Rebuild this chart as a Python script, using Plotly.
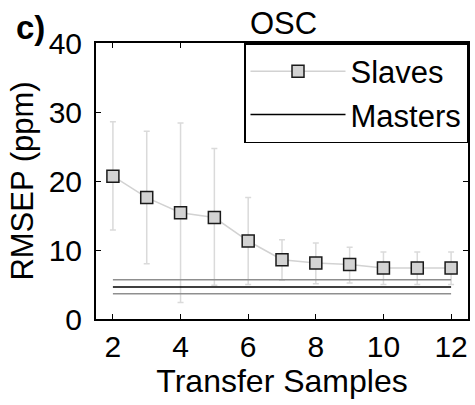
import plotly.graph_objects as go

# Data
transfer_samples = [2, 3, 4, 5, 6, 7, 8, 9, 10, 11, 12]
slaves_mean = [20.7, 17.6, 15.4, 14.7, 11.3, 8.6, 8.1, 7.9, 7.4, 7.4, 7.4]
slaves_upper = [28.6, 27.2, 28.4, 24.7, 17.6, 11.5, 11.0, 10.4, 9.7, 9.7, 9.7]
slaves_lower = [12.9, 8.0, 2.4, 4.9, 5.0, 5.6, 5.1, 5.2, 5.0, 5.0, 5.0]
masters_x = [2, 12]
masters_mean = [4.65, 4.65]
masters_upper = [5.7, 5.7]
masters_lower = [3.65, 3.65]
x_ticks = [2, 4, 6, 8, 10, 12]
y_ticks = [0, 10, 20, 30, 40]

FONT = "Liberation Sans, Arial, sans-serif"

err_plus = [u - m for u, m in zip(slaves_upper, slaves_mean)]
err_minus = [m - l for m, l in zip(slaves_mean, slaves_lower)]

fig = go.Figure()

# error bars (behind everything)
fig.add_trace(go.Scatter(
    x=transfer_samples, y=slaves_mean, mode="markers",
    marker=dict(size=1, opacity=0),
    error_y=dict(type="data", symmetric=False, array=err_plus, arrayminus=err_minus,
                 color="#dadada", thickness=1.5, width=3),
    showlegend=False, hoverinfo="skip"))

# master band lines
fig.add_trace(go.Scatter(x=masters_x, y=masters_upper, mode="lines",
                         line=dict(color="#8f8f8f", width=1.5), showlegend=False))
fig.add_trace(go.Scatter(x=masters_x, y=masters_lower, mode="lines",
                         line=dict(color="#8f8f8f", width=1.5), showlegend=False))

# slaves
fig.add_trace(go.Scatter(
    x=transfer_samples, y=slaves_mean, mode="lines+markers", name="Slaves",
    line=dict(color="#d2d2d2", width=1.5),
    marker=dict(symbol="square", size=12, color="#d3d3d3",
                line=dict(color="#1a1a1a", width=1.5))))

fig.add_trace(go.Scatter(x=masters_x, y=masters_mean, mode="lines", name="Masters",
                         line=dict(color="black", width=1.5)))

fig.update_layout(
    width=475, height=405,
    margin=dict(l=96, r=5, t=43, b=86, pad=0),
    paper_bgcolor="white", plot_bgcolor="white",
    font=dict(family=FONT, size=30, color="black"),
    title=dict(text="OSC", x=0.597, xanchor="center", y=1 - 23 / 405, yanchor="middle",
               font=dict(family=FONT, size=31, color="black")),
    showlegend=True,
    legend=dict(x=1, xanchor="right", y=1, yanchor="top",
                bgcolor="white", bordercolor="black", borderwidth=1.5,
                font=dict(family=FONT, size=31, color="black"),
                itemwidth=95, tracegroupgap=0),
    annotations=[dict(text="<b>c)</b>", xref="paper", yref="paper",
                      x=-82 / 374, y=1 + 15 / 276, xanchor="left", yanchor="middle",
                      showarrow=False, font=dict(family=FONT, size=33, color="black"))],
)

fig.update_xaxes(
    range=[1.5, 12.5], tickvals=x_ticks, ticktext=[str(v) for v in x_ticks],
    showgrid=False, zeroline=False, showline=True, linecolor="black", linewidth=2,
    mirror="allticks", ticks="inside", ticklen=5, tickwidth=1, tickcolor="black",
    title=dict(text="Transfer Samples", font=dict(family=FONT, size=32), standoff=2),
    tickfont=dict(family=FONT, size=30))

fig.update_yaxes(
    range=[0, 40], tickvals=y_ticks, ticktext=[str(v) for v in y_ticks],
    showgrid=False, zeroline=False, showline=True, linecolor="black", linewidth=2,
    mirror="allticks", ticks="inside", ticklen=5, tickwidth=1, tickcolor="black",
    ticklabelstandoff=6,
    title=dict(text="RMSEP (ppm)", font=dict(family=FONT, size=31), standoff=6),
    tickfont=dict(family=FONT, size=30))

fig.write_html("out.html")
